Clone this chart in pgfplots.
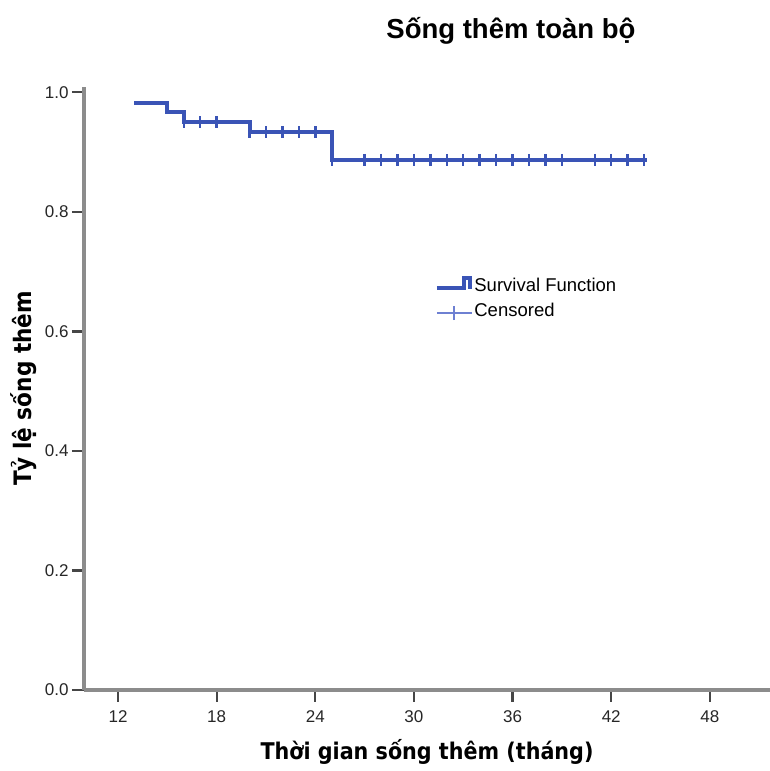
\documentclass[border=0pt]{standalone}
\usepackage{fontspec}
\setmainfont{Liberation Sans}
\newfontfamily\labelfont{DejaVu Sans Condensed}
\usepackage{pgfplots}
\pgfplotsset{compat=1.18}
\definecolor{kmblue}{RGB}{58,84,182}
\definecolor{cenblue}{RGB}{110,128,210}
\definecolor{axgray}{RGB}{140,140,140}
\definecolor{tickgray}{RGB}{70,70,70}

\begin{document}
\begin{tikzpicture}[x=1pt,y=1pt]
\useasboundingbox (0,0) rectangle (770,771);
\begin{axis}[
    at={(84pt,81pt)}, anchor=south west,
    scale only axis, width=686pt, height=603pt,
    xmin=9.93, xmax=51.66, ymin=0, ymax=1.009,
    axis x line=bottom, axis y line=left,
    axis line style={-, draw=axgray, line width=3.2pt},
    xtick={12,18,24,30,36,42,48},
    ytick={0,0.2,0.4,0.6,0.8,1.0},
    tick align=outside, major tick length=12pt,
    xtick style={draw=tickgray, line width=2.2pt},
    ytick style={draw=tickgray, line width=2.2pt},
    every major tick/.append style={draw=tickgray, line width=2.2pt},
    minor tick num=0,
    ticklabel style={font=\fontsize{17}{19}\selectfont, text=black!85},
    xticklabel style={yshift=-5pt},
    /pgf/number format/assume math mode=true,
    yticklabel style={/pgf/number format/.cd, fixed, fixed zerofill, precision=1},
    title={\bfseries Sống thêm toàn bộ},
    title style={at={(axis description cs:0.6224,1.083)}, anchor=center,
        font=\fontsize{27.5}{30}\selectfont},
    xlabel={\labelfont\bfseries Thời gian sống thêm (tháng)},
    every axis x label/.style={at={(axis description cs:0.5,-0.103)}, anchor=center,
        font=\fontsize{23}{26}\selectfont},
    ylabel={\labelfont\bfseries Tỷ lệ sống thêm},
    every axis y label/.style={at={(axis description cs:-0.0875,0.5)}, rotate=90, anchor=center,
        font=\fontsize{24}{27}\selectfont},
    legend style={at={(axis cs:31.28,0.693)}, anchor=north west, draw=none, fill=none,
        inner sep=0pt, row sep=7pt, font=\fontsize{18.5}{20}\selectfont,
        nodes={inner sep=1.5pt}},
    legend cell align=left,
    clip=false,
]
\addplot[draw=kmblue, line width=4pt, const plot,
    legend image code/.code={\draw[draw=kmblue, line width=3.6pt] (0pt,-2.5pt) -- (27pt,-2.5pt) -- (27pt,7.5pt) -- (33pt,7.5pt) -- (33pt,-4pt);}]
    coordinates {
    (13,0.983)(15,0.967)(16,0.950)(20,0.933)(25,0.887)(44.2,0.887)
    };
\addlegendentry{Survival Function}
\addplot[only marks, mark=|, mark size=6pt, draw=kmblue, mark options={draw=kmblue, line width=2.4pt},
    legend image code/.code={\draw[draw=cenblue, line width=1.8pt] (0pt,-3pt) -- (35pt,-3pt); \draw[draw=cenblue, line width=1.8pt] (17pt,-10pt) -- (17pt,4pt);}]
    coordinates {
    (16,0.950)(17,0.950)(18,0.950)
    (20,0.933)(21,0.933)(22,0.933)(23,0.933)(24,0.933)
    (25,0.887)(27,0.887)(28,0.887)(29,0.887)(30,0.887)(31,0.887)(32,0.887)
    (33,0.887)(34,0.887)(35,0.887)(36,0.887)(37,0.887)(38,0.887)(39,0.887)
    (41,0.887)(42,0.887)(43,0.887)(44,0.887)
    };
\addlegendentry{Censored}
\end{axis}
\end{tikzpicture}
\end{document}
